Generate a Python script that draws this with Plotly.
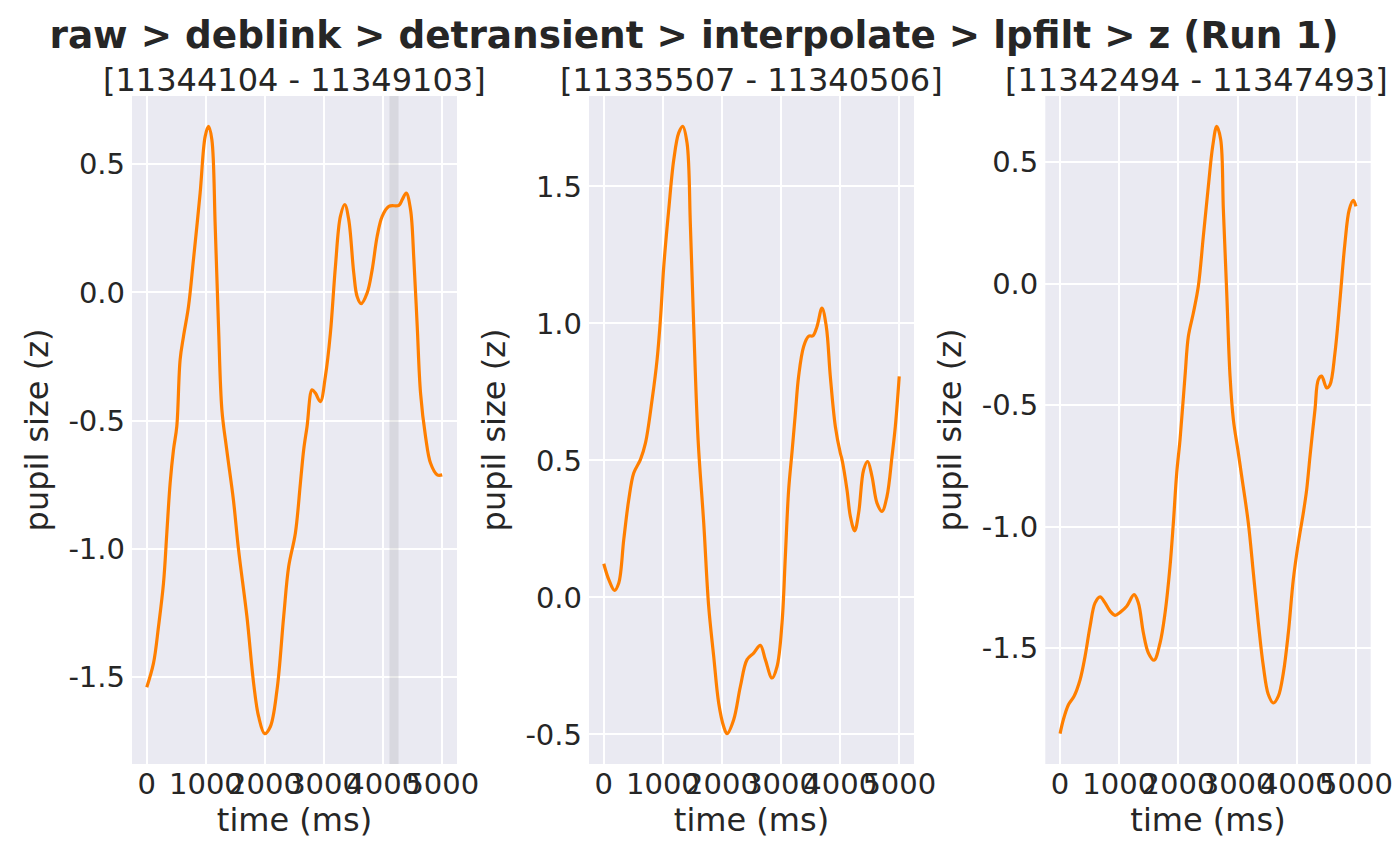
import plotly.graph_objects as go

# ---------------- data ----------------
titles = ["[11344104 - 11349103]", "[11335507 - 11340506]", "[11342494 - 11347493]"]
suptitle = "raw > deblink > detransient > interpolate > lpfilt > z (Run 1)"

t1 = [0, 113, 198, 283, 339, 395, 452, 508, 564, 621, 706, 790, 903, 988, 1045, 1101, 1158, 1214,
      1271, 1353, 1466, 1553, 1695, 1808, 1893, 1994, 2090, 2203, 2316, 2401, 2514, 2599, 2655,
      2712, 2797, 2853, 2937, 3022, 3107, 3192, 3276, 3350, 3417, 3502, 3559, 3627, 3729, 3814,
      3898, 3983, 4096, 4265, 4322, 4390, 4463, 4519, 4576, 4632, 4717, 4802, 4915, 4999]
y1 = [-1.541, -1.448, -1.305, -1.135, -0.940, -0.745, -0.614, -0.523, -0.263, -0.172, -0.055,
      0.128, 0.388, 0.609, 0.648, 0.597, 0.258, -0.133, -0.458, -0.614, -0.810, -1.005, -1.266,
      -1.526, -1.656, -1.722, -1.695, -1.552, -1.266, -1.070, -0.940, -0.745, -0.614, -0.523,
      -0.380, -0.393, -0.426, -0.328, -0.159, 0.102, 0.297, 0.343, 0.284, 0.076, -0.016, -0.044,
      -0.002, 0.089, 0.219, 0.297, 0.336, 0.340, 0.362, 0.388, 0.323, 0.128, -0.133, -0.393,
      -0.563, -0.667, -0.712, -0.712]

t2 = [0, 85, 181, 254, 338, 423, 507, 620, 705, 818, 902, 958, 1015, 1099, 1184, 1268, 1336, 1409,
      1466, 1522, 1596, 1691, 1775, 1860, 1944, 2029, 2086, 2198, 2311, 2424, 2536, 2649,
      2734, 2847, 2932, 3016, 3072, 3128, 3185, 3241, 3297, 3382, 3466, 3540, 3608, 3692, 3765,
      3833, 3918, 4002, 4031, 4115, 4172, 4245, 4312, 4397, 4465, 4538, 4623, 4707, 4792, 4877,
      4933, 4999]
y2 = [0.123, 0.065, 0.026, 0.053, 0.211, 0.357, 0.454, 0.503, 0.563, 0.722, 0.868, 1.013, 1.208,
      1.415, 1.597, 1.695, 1.719, 1.658, 1.354, 0.989, 0.575, 0.272, -0.033, -0.215,
      -0.385, -0.471, -0.497, -0.446, -0.325, -0.227, -0.203, -0.175, -0.227, -0.294, -0.252,
      -0.093, 0.150, 0.393, 0.530, 0.670, 0.807, 0.916, 0.953, 0.955, 0.989, 1.056, 0.989,
      0.807, 0.624, 0.527, 0.503, 0.393, 0.296, 0.243, 0.308, 0.466, 0.496, 0.442, 0.344, 0.314,
      0.369, 0.515, 0.624, 0.807]

t3 = [0, 56, 141, 236, 338, 422, 507, 591, 676, 760, 845, 929, 1014, 1126, 1250, 1323, 1407, 1492,
      1588, 1689, 1774, 1858, 1914, 1971, 2027, 2111, 2168, 2252, 2336, 2421, 2505, 2579, 2647,
      2714, 2759, 2816, 2872, 2928, 3012, 3069, 3181, 3266, 3350, 3435, 3519, 3604, 3688, 3773,
      3857, 3941, 4026, 4110, 4167, 4223, 4307, 4364, 4420, 4505, 4561, 4645, 4730, 4814, 4887,
      4955, 4999]
y3 = [-1.852, -1.794, -1.733, -1.698, -1.630, -1.534, -1.410, -1.314, -1.289, -1.314, -1.348,
      -1.365, -1.353, -1.328, -1.280, -1.314, -1.437, -1.520, -1.550, -1.479, -1.355, -1.163,
      -0.985, -0.779, -0.642, -0.381, -0.217, -0.121, -0.011, 0.195, 0.400, 0.565, 0.647, 0.593,
      0.305, -0.038, -0.381, -0.560, -0.697, -0.793, -0.985, -1.191, -1.396, -1.575, -1.691,
      -1.726, -1.698, -1.602, -1.437, -1.218, -1.067, -0.944, -0.848, -0.711, -0.519, -0.395,
      -0.381, -0.429, -0.416, -0.285, -0.066, 0.167, 0.305, 0.343, 0.318]

# shaded (blink) span in panel 1, ms
span1 = [4107, 4259]

x_ticks = [0, 1000, 2000, 3000, 4000, 5000]
y_ticks = [[-1.5, -1.0, -0.5, 0.0, 0.5],
           [-0.5, 0.0, 0.5, 1.0, 1.5],
           [-1.5, -1.0, -0.5, 0.0, 0.5]]

# ---------------- figure ----------------
OFF = 8                      # page body margin of the html page
W, H = 1400 - OFF, 866 - 2 * OFF
FONT = "DejaVu Sans"
TXT = "#262626"
ORANGE = "#ff7f00"
BG = "#eaeaf2"


def px(x):
    return (x - OFF) / W


def py(y):
    return 1 - (y - OFF) / H


xdom = [(px(132), px(457)), (px(589), px(914)), (px(1045.3), px(1370.7))]
ydom = (py(764), py(96))

fig = go.Figure()
series = [(t1, y1), (t2, y2), (t3, y3)]
for i, (t, y) in enumerate(series):
    n = "" if i == 0 else str(i + 1)
    xmin, xmax = min(t), max(t)
    xs = xmax - xmin
    ymin, ymax = min(y), max(y)
    ys = ymax - ymin
    yr = [ymin - 0.05 * ys, ymax + 0.05 * ys]
    if i == 0:
        fig.add_trace(go.Scatter(x=[span1[0], span1[1], span1[1], span1[0], span1[0]],
                                 y=[yr[0], yr[0], yr[1], yr[1], yr[0]],
                                 mode="lines", fill="toself", line=dict(width=0),
                                 fillcolor="rgba(128,128,128,0.17)", xaxis="x", yaxis="y",
                                 showlegend=False, hoverinfo="skip"))
    fig.add_trace(go.Scatter(x=t, y=y, mode="lines", xaxis="x" + n, yaxis="y" + n,
                             line=dict(color=ORANGE, width=3.2, shape="spline", smoothing=1.0),
                             showlegend=False, hoverinfo="skip"))
    common = dict(showgrid=True, gridcolor="white", gridwidth=2, zeroline=False,
                  showline=False, ticks="", automargin=False,
                  tickfont=dict(family=FONT, size=29, color=TXT),
                  title_font=dict(family=FONT, size=32, color=TXT))
    fig.update_layout(**{
        "xaxis" + n: dict(domain=list(xdom[i]), anchor="y" + n,
                          range=[xmin - 0.05 * xs, xmax + 0.05 * xs], tickangle=0,
                          tickvals=x_ticks, ticktext=[str(v) for v in x_ticks],
                          title=dict(text="time (ms)", standoff=0), ticklabelstandoff=0,
                          **common),
        "yaxis" + n: dict(domain=list(ydom), anchor="x" + n, range=yr,
                          tickvals=y_ticks[i],
                          ticktext=["%.1f" % v for v in y_ticks[i]],
                          title=dict(text="pupil size (z)", standoff=10), ticklabelstandoff=6,
                          **common),
    })
    if i < 2:
        ax, anc = (xdom[i][0] + xdom[i][1]) / 2, "center"
    else:
        ax, anc = px(1390), "right"   # keep the last title inside the visible page
    fig.add_annotation(text=titles[i], xref="paper", yref="paper",
                       x=ax, y=ydom[1], xanchor=anc,
                       yanchor="bottom", yshift=-5, showarrow=False,
                       font=dict(family=FONT, size=32, color=TXT))

fig.update_layout(
    width=W, height=H, autosize=False,
    margin=dict(l=0, r=0, t=0, b=0),
    paper_bgcolor="white", plot_bgcolor=BG,
    font=dict(family=FONT, color=TXT),
    title=dict(text="<b>" + suptitle + "</b>", x=px(694), xanchor="center", y=py(35),
               yanchor="middle", font=dict(family=FONT, size=37.4, color=TXT)),
)

fig.write_html("out.html", config={"responsive": False})
